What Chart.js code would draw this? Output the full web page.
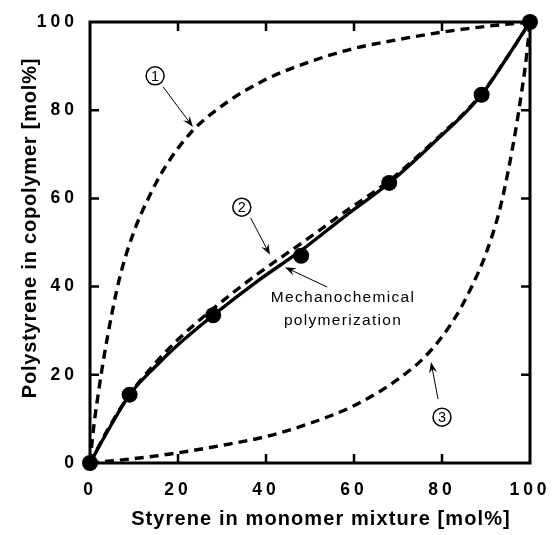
<!DOCTYPE html>
<html>
<head>
<meta charset="utf-8">
<script src="https://cdn.jsdelivr.net/npm/chart.js@4.4.1/dist/chart.umd.min.js"></script>
<style>
  html, body { margin: 0; padding: 0; background: #fff; }
</style>
</head>
<body>
<canvas id="chart" width="555" height="535"></canvas>
<script>
const tickValues = [0, 20, 40, 60, 80, 100];

// mechanochemical runs
const feedStyrene = [0, 9, 28, 48, 68, 89, 100];
const polyStyrene = [0, 15.5, 33.5, 47, 63.5, 83.5, 100];

// solid line through the runs
const fitX = [0, 4, 9, 15, 20, 28, 38, 48, 58, 68, 78, 89, 95, 100];
const fitY = [0, 7.2, 15.5, 22, 26.8, 33.5, 41.2, 48.2, 56, 63.5, 72.5, 83.5, 92.3, 100];

// curve 1
const curve1X = [0, 0.5, 1, 2, 3, 5, 7, 10, 13, 17, 23, 30, 40, 50, 60, 70, 80, 90, 100];
const curve1Y = [0, 5, 9.5, 16.5, 23, 34, 43, 52.5, 59.5, 67, 75, 81, 87, 91, 94, 96, 97.7, 99, 100];

// curve 2
const curve2X = [0, 4, 9, 15, 20, 28, 38, 48, 58, 68, 78, 89, 95, 100];
const curve2Y = [0, 7.5, 15.5, 22.8, 28, 35, 42.8, 49.8, 57, 64, 72.8, 83.7, 92.3, 100];

// curve 3
const curve3X = [0, 10, 20, 30, 40, 50, 60, 70, 77, 83, 87, 90, 93, 95, 97, 98, 99, 99.5, 100];
const curve3Y = [0, 1, 2.3, 4, 6, 9, 13, 19, 25, 33, 40.5, 47.5, 57, 66, 77, 83.5, 90.5, 95, 100];

const pairs = (xs, ys) => xs.map((x, i) => ({ x, y: ys[i] }));

// numbered callouts, in axis units
const callouts = [
  { num: '1', at: [14.8, 87.8], from: [16.6, 85.3], to: [23.4, 76.2] },
  { num: '2', at: [34.5, 58], from: [36.5, 55.6], to: [40.9, 47.2] },
  { num: '3', at: [80, 10.4], from: [79.1, 14.5], to: [77.5, 22.9] },
];
const note = { lines: ['Mechanochemical', 'polymerization'], at: [57.5, 37.4], from: [53.9, 39.9], to: [44.3, 44.4] };

const FONT = '"Liberation Sans", Arial, Helvetica, sans-serif';

function arrow(ctx, x0, y0, x1, y1) {
  const ang = Math.atan2(y1 - y0, x1 - x0);
  const len = 11, half = 4;
  ctx.beginPath();
  ctx.moveTo(x0, y0);
  ctx.lineTo(x1 - Math.cos(ang) * 6, y1 - Math.sin(ang) * 6);
  ctx.stroke();
  ctx.beginPath();
  ctx.moveTo(x1, y1);
  ctx.lineTo(x1 - Math.cos(ang) * len - Math.sin(ang) * half, y1 - Math.sin(ang) * len + Math.cos(ang) * half);
  ctx.lineTo(x1 - Math.cos(ang) * 7, y1 - Math.sin(ang) * 7);
  ctx.lineTo(x1 - Math.cos(ang) * len + Math.sin(ang) * half, y1 - Math.sin(ang) * len - Math.cos(ang) * half);
  ctx.closePath();
  ctx.fill();
}

const framePlugin = {
  id: 'frame',
  beforeDraw(chart) {
    // spaced-out tick numbers
    chart.ctx.letterSpacing = '4px';
  },
  beforeDatasetsDraw(chart) {
    const { ctx, chartArea: a, scales: { x, y } } = chart;
    ctx.letterSpacing = '0px';
    ctx.save();
    ctx.strokeStyle = '#000';
    ctx.lineWidth = 3;
    ctx.strokeRect(a.left, a.top, a.right - a.left, a.bottom - a.top);
    ctx.lineWidth = 2.5;
    ctx.beginPath();
    tickValues.slice(1, -1).forEach(v => {
      const px = x.getPixelForValue(v), py = y.getPixelForValue(v);
      ctx.moveTo(px, a.bottom); ctx.lineTo(px, a.bottom - 9);
      ctx.moveTo(px, a.top); ctx.lineTo(px, a.top + 9);
      ctx.moveTo(a.left, py); ctx.lineTo(a.left + 9, py);
      ctx.moveTo(a.right, py); ctx.lineTo(a.right - 9, py);
    });
    ctx.stroke();
    ctx.restore();
  },
  afterDraw(chart) {
    const { ctx, scales: { x, y } } = chart;
    const px = p => [x.getPixelForValue(p[0]), y.getPixelForValue(p[1])];
    ctx.save();
    ctx.fillStyle = '#000';
    ctx.strokeStyle = '#000';

    // axis titles
    ctx.font = 'bold 20px ' + FONT;
    ctx.letterSpacing = '1.1px';
    ctx.textAlign = 'center';
    ctx.textBaseline = 'middle';
    ctx.fillText('Styrene in monomer mixture [mol%]', 321, 519);
    ctx.save();
    ctx.translate(30, 228);
    ctx.rotate(-Math.PI / 2);
    ctx.letterSpacing = '0.8px';
    ctx.fillText('Polystyrene in copolymer [mol%]', 0, 0);
    ctx.restore();

    // numbered callouts
    callouts.forEach(c => {
      const [cx, cy] = px(c.at);
      ctx.lineWidth = 1.5;
      ctx.beginPath();
      ctx.arc(cx, cy, 9, 0, Math.PI * 2);
      ctx.stroke();
      ctx.font = '14.5px ' + FONT;
      ctx.letterSpacing = '0px';
      ctx.fillText(c.num, cx, cy + 1);
      ctx.lineWidth = 1;
      const [x0, y0] = px(c.from), [x1, y1] = px(c.to);
      arrow(ctx, x0, y0, x1, y1);
    });

    // label for the solid curve
    const [nx, ny] = px(note.at);
    ctx.font = '15.5px ' + FONT;
    ctx.letterSpacing = '1.3px';
    ctx.fillText(note.lines[0], nx, ny);
    ctx.fillText(note.lines[1], nx, ny + 23);
    const [ax0, ay0] = px(note.from), [ax1, ay1] = px(note.to);
    arrow(ctx, ax0, ay0, ax1, ay1);
    ctx.restore();
  }
};

const dashed = (data) => ({
  data,
  showLine: true,
  borderColor: '#000',
  borderWidth: 3.4,
  borderDash: [9, 6],
  pointRadius: 0,
  cubicInterpolationMode: 'monotone',
  clip: false,
  order: 3
});

new Chart(document.getElementById('chart'), {
  type: 'scatter',
  data: {
    datasets: [
      {
        data: pairs(feedStyrene, polyStyrene),
        pointRadius: 8,
        pointBackgroundColor: '#000',
        pointBorderColor: '#000',
        pointBorderWidth: 0,
        showLine: false,
        clip: false,
        order: 1
      },
      {
        data: pairs(fitX, fitY),
        showLine: true,
        borderColor: '#000',
        borderWidth: 3.4,
        pointRadius: 0,
        cubicInterpolationMode: 'monotone',
        clip: false,
        order: 2
      },
      dashed(pairs(curve1X, curve1Y)),
      dashed(pairs(curve2X, curve2Y)),
      dashed(pairs(curve3X, curve3Y))
    ]
  },
  options: {
    responsive: false,
    animation: false,
    devicePixelRatio: 1,
    layout: { padding: { left: 0, top: 22, right: 25, bottom: 0 } },
    plugins: { legend: { display: false }, tooltip: { enabled: false } },
    scales: {
      x: {
        type: 'linear', min: 0, max: 100,
        afterBuildTicks: s => { s.ticks = tickValues.map(v => ({ value: v })); },
        afterFit: s => { s.height = 72; s.paddingLeft = 0; s.paddingRight = 0; },
        ticks: { color: '#000', padding: 9, font: { family: FONT, size: 17.5, weight: 'bold' } },
        grid: { display: false },
        border: { display: false }
      },
      y: {
        type: 'linear', min: 0, max: 100,
        afterBuildTicks: s => { s.ticks = tickValues.map(v => ({ value: v })); },
        afterFit: s => { s.width = 90; s.paddingTop = 0; s.paddingBottom = 0; },
        ticks: { color: '#000', padding: 4, font: { family: FONT, size: 17.5, weight: 'bold' } },
        grid: { display: false },
        border: { display: false }
      }
    }
  },
  plugins: [framePlugin]
});
</script>
</body>
</html>
